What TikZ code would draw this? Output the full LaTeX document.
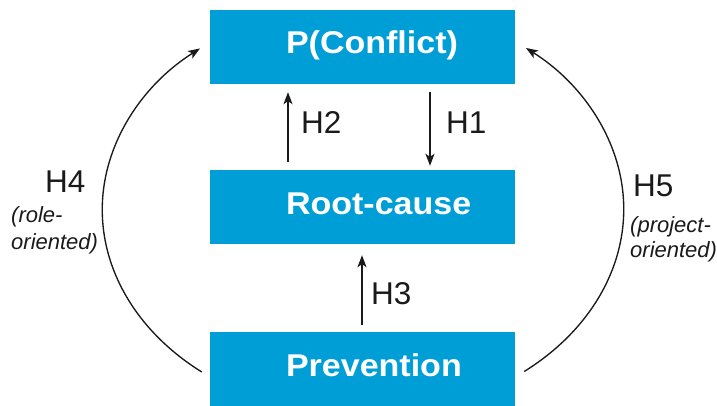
\documentclass[tikz,border=0pt]{standalone}
\usepackage{fontspec}
\setmainfont{Liberation Sans}
\newfontfamily\boxfont{Liberation Sans}[FakeStretch=1.08]
\usetikzlibrary{arrows.meta}

\definecolor{boxblue}{HTML}{009ED6}
\definecolor{ink}{HTML}{1A1A1A}

\tikzset{
  stage/.style={fill=boxblue, draw=none, minimum width=305pt, text width=305pt,
    inner xsep=0pt, inner ysep=0pt, text height=44pt, text depth=30pt, align=left,
    text=white, font=\boxfont\bfseries\fontsize{31.5}{31.5}\selectfont},
  hyp/.style={anchor=base west, inner sep=0pt, text=ink,
    font=\fontsize{31.5}{31.5}\selectfont},
  note/.style={anchor=base west, inner sep=0pt, text=ink,
    font=\itshape\fontsize{22}{22}\selectfont},
  arr/.style={draw=ink, line width=1.35pt,
    -{Stealth[length=12pt, width=9pt, inset=3pt]}},
}

\begin{document}
\begin{tikzpicture}[x=1pt, y=1pt]
  \useasboundingbox (0,0) rectangle (717,405);

  % the three stages
  \node[stage] (conf) at (362.5,358) {\hspace*{76pt}P(Conflict)};
  \node[stage] (root) at (362.5,198) {\hspace*{76pt}Root-cause};
  \node[stage] (prev) at (362.5,36)  {\hspace*{76pt}Prevention};

  % straight hypotheses between neighbouring stages
  \draw[arr, shorten <=8pt, shorten >=8pt]
    ([xshift=-74.5pt]root.north) -- ([xshift=-74.5pt]conf.south);
  \draw[arr, shorten <=8pt, shorten >=4pt]
    ([xshift=67.5pt]conf.south) -- ([xshift=67.5pt]root.north);
  \draw[arr, shorten <=7pt, shorten >=11pt]
    ([xshift=-0.5pt]prev.north) -- ([xshift=-0.5pt]root.south);

  \node[hyp] (h2) at (301,272) {H2};
  \node[hyp] (h1) at (446,272) {H1};
  \node[hyp] (h3) at (371,101) {H3};

  % curved hypotheses from prevention to conflict
  \draw[arr] ([shift={(-8pt,-3pt)}]prev.west)
    arc[start angle=232, end angle=128.5, x radius=259pt, y radius=206pt];
  \draw[arr] ([shift={(9pt,-2.5pt)}]prev.east)
    arc[start angle=-52, end angle=51.5, x radius=259pt, y radius=206pt];

  \node[hyp] (h4) at (45,213) {H4};
  \node[note] (h4a) at (11,183) {(role-};
  \node[note] (h4b) at (11,156) {oriented)};

  \node[hyp] (h5) at (633,209) {H5};
  \node[note] (h5a) at (630,173) {(project-};
  \node[note] (h5b) at (630,148) {oriented)};
\end{tikzpicture}
\end{document}
